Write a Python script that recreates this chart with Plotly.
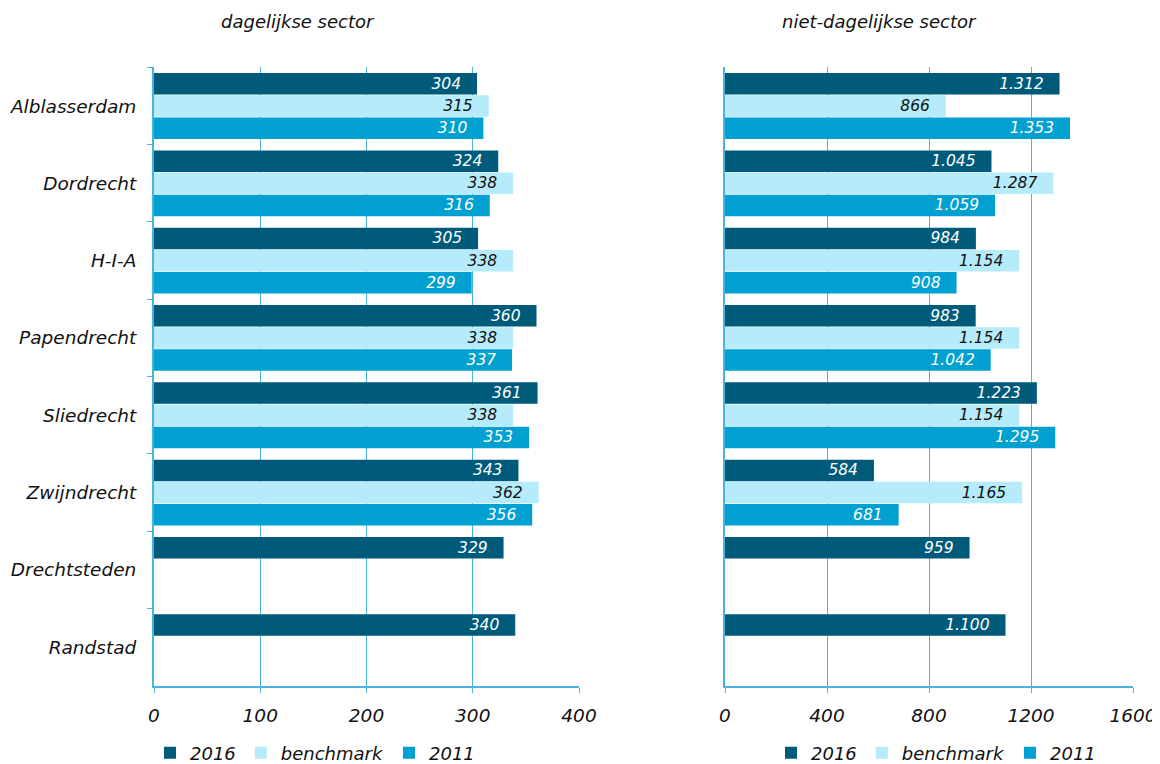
import plotly.graph_objects as go

# gegevens
gemeenten = ["Alblasserdam", "Dordrecht", "H-I-A", "Papendrecht", "Sliedrecht",
             "Zwijndrecht", "Drechtsteden", "Randstad"]

dag_2016 = [304, 324, 305, 360, 361, 343, 329, 340]
dag_bench = [315, 338, 338, 338, 338, 362, None, None]
dag_2011 = [310, 316, 299, 337, 353, 356, None, None]

niet_2016 = [1312, 1045, 984, 983, 1223, 584, 959, 1100]
niet_bench = [866, 1287, 1154, 1154, 1154, 1165, None, None]
niet_2011 = [1353, 1059, 908, 1042, 1295, 681, None, None]

reeksen = ["2016", "benchmark", "2011"]
kleuren = ["#005B7B", "#B5EBFA", "#00A0D1"]
tekstkleuren = ["white", "#111111", "white"]

FONT = "DejaVu Sans, Verdana, sans-serif"
LIJN = "#4BB4DE"
W, H = 1160, 764


def fmt(v):
    # Nederlandse notatie, met wat ruimte aan het eind van de balk
    if v is None:
        return ""
    return f"{v:,}".replace(",", ".") + "\u00a0\u00a0\u2009"


fig = go.Figure()

links = [dag_2016, dag_bench, dag_2011]
rechts = [niet_2016, niet_bench, niet_2011]

for i, naam in enumerate(reeksen):
    for data, xa, ya, lg in [(links[i], "x", "y", "legend"), (rechts[i], "x2", "y2", "legend2")]:
        fig.add_trace(go.Bar(
            y=gemeenten, x=data, orientation="h", name=naam,
            marker=dict(color=kleuren[i], line=dict(width=0)),
            text=[fmt(v) for v in data], textposition="inside",
            insidetextanchor="end", constraintext="none", textangle=0,
            insidetextfont=dict(family=FONT, size=15.5, color=tekstkleuren[i], style="italic"),
            xaxis=xa, yaxis=ya, legend=lg,
        ))

# de pagina verschuift alles ~8px (body-marge), daarom hier 8px minder
y_dom = [79 / H, 704 / H]
as_font = dict(family=FONT, size=18.5, color="#111111", style="italic")
leg_font = dict(family=FONT, size=18, color="#111111", style="italic")
titel_font = dict(family=FONT, size=18, color="#111111", style="italic")

fig.update_layout(
    width=W, height=H,
    paper_bgcolor="white", plot_bgcolor="white",
    margin=dict(l=0, r=0, t=0, b=0),
    barmode="group", bargap=0.14, bargroupgap=0.03,
    font=dict(family=FONT, color="#111111"),
    xaxis=dict(domain=[146 / W, 571 / W], range=[0, 400], dtick=100,
               showgrid=True, gridcolor=LIJN, gridwidth=1,
               showline=True, linecolor=LIJN, linewidth=2,
               ticks="outside", ticklen=5, tickcolor=LIJN, automargin=False,
               ticklabelstandoff=7, tickfont=as_font, zeroline=False),
    yaxis=dict(domain=y_dom, anchor="x", autorange="reversed", automargin=False,
               showline=True, linecolor=LIJN, linewidth=2,
               ticks="outside", tickson="boundaries", ticklen=5, tickcolor=LIJN,
               ticklabelstandoff=12, tickfont=as_font),
    xaxis2=dict(domain=[717 / W, 1125 / W], range=[0, 1600], dtick=400, anchor="y2",
                showgrid=True, gridcolor=LIJN, gridwidth=1,
                showline=True, linecolor=LIJN, linewidth=2,
                ticks="outside", ticklen=5, tickcolor=LIJN, automargin=False,
                ticklabelstandoff=7, tickfont=as_font, zeroline=False),
    yaxis2=dict(domain=y_dom, anchor="x2", autorange="reversed", automargin=False,
                showline=True, linecolor=LIJN, linewidth=2,
                showticklabels=False, ticks=""),
    legend=dict(orientation="h", x=307 / W, xanchor="center", y=11 / H, yanchor="middle",
                font=leg_font, itemwidth=30, bgcolor="rgba(0,0,0,0)"),
    legend2=dict(orientation="h", x=928 / W, xanchor="center", y=11 / H, yanchor="middle",
                 font=leg_font, itemwidth=30, bgcolor="rgba(0,0,0,0)"),
    annotations=[
        dict(text="dagelijkse sector", x=290 / W, y=1 - 14 / H, xref="paper", yref="paper",
             xanchor="center", yanchor="middle", showarrow=False, font=titel_font),
        dict(text="niet-dagelijkse sector", x=871 / W, y=1 - 14 / H, xref="paper", yref="paper",
             xanchor="center", yanchor="middle", showarrow=False, font=titel_font),
    ],
)

fig.write_html("out.html")
